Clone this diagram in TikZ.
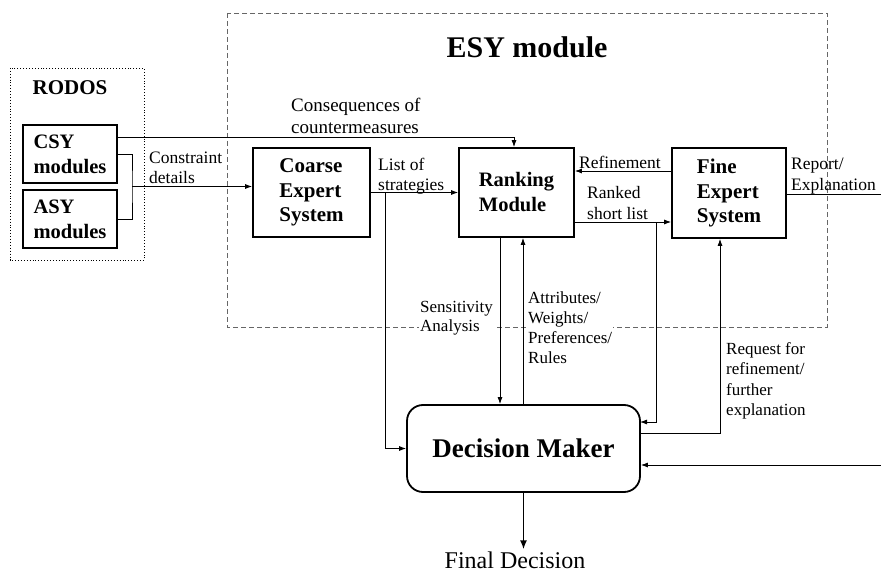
\documentclass[tikz,border=0pt]{standalone}
\usepackage{fontspec}
\setmainfont{Liberation Serif}
\usetikzlibrary{arrows.meta}

\begin{document}
\begin{tikzpicture}[
  x=1pt,
  y=-1pt,
  line join=miter,
  block/.style={draw, line width=1.8pt, align=left, inner sep=0pt,
    font=\fontsize{21}{24.5}\selectfont\bfseries},
  lbl/.style={anchor=west, align=left, inner sep=1pt,
    font=\fontsize{17.5}{20.5}\selectfont},
  conn/.style={line width=0.8pt},
  arr/.style={conn, -{Latex[length=7pt,width=5pt]}}
]
  \useasboundingbox (0,0) rectangle (881,575);

  % Rahmen ESY und RODOS
  \draw[line width=0.8pt, dash pattern=on 5pt off 3pt, gray!80!black]
    (227,13) rectangle (827,327);
  \draw[line width=0.9pt, dotted]
    (10,68) rectangle (144,260);

  \node[font=\fontsize{30}{34}\selectfont\bfseries] (esytitle) at (527,47) {ESY module};
  \node[font=\fontsize{21}{24}\selectfont\bfseries] (rodostitle) at (70,88) {RODOS};

  % Bausteine
  \node[block, minimum width=94, minimum height=58, font=\fontsize{20.5}{25}\selectfont\bfseries]
    (csy) at (70,154) {CSY\\modules};
  \node[block, minimum width=94, minimum height=58, font=\fontsize{20.5}{25}\selectfont\bfseries]
    (asy) at (70,219) {ASY\\modules};
  \node[block, minimum width=117, minimum height=89] (coarse) at (311.5,192.5)
    {Coarse\\Expert\\System};
  \node[block, minimum width=115, minimum height=89, font=\fontsize{20.5}{25}\selectfont\bfseries]
    (rank) at (516.5,192.5) {Ranking\\Module};
  \node[block, minimum width=114, minimum height=90] (fine) at (729,193)
    {Fine\\Expert\\System};
  \node[draw, line width=1.8pt, rounded corners=16pt, minimum width=233, minimum height=87,
    font=\fontsize{27}{30}\selectfont\bfseries] (dm) at (523.5,448.5) {Decision Maker};
  \node[font=\fontsize{24}{28}\selectfont, inner sep=2pt] (final) at (515,560) {Final Decision};

  % Hilfspunkte
  \coordinate (cons) at (514,137);
  \coordinate (join) at (132,186.5);
  \coordinate (lsb) at (385,192.5);
  \coordinate (ref) at (620,171);
  \coordinate (rsl) at (656,222);
  \coordinate (rsldm) at (640,422);
  \coordinate (rep) at (881,194);
  \coordinate (sa) at (500,300);
  \coordinate (att) at (523,300);
  \coordinate (req) at (720,433);
  \coordinate (inp) at (881,465);

  % Verbindungen
  \draw[arr] (csy.east |- cons) -- (cons) -- (cons |- rank.north);
  \draw[conn] (csy.east) -| (join) |- (asy.east);
  \draw[arr] (join) -- (join -| coarse.west);
  \draw[arr] (coarse) -- (rank);
  \draw[arr] (lsb) |- (dm.west);
  \draw[arr] (ref -| fine.west) -- (ref -| rank.east);
  \draw[arr] (rsl -| rank.east) -- (rsl -| fine.west);
  \draw[arr] (rsl) |- (rsldm);
  \draw[conn] (rep -| fine.east) -- (rep);
  \draw[arr] (sa |- rank.south) -- (sa |- dm.north);
  \draw[arr] (att |- dm.north) -- (att |- rank.south);
  \draw[arr] (req -| dm.east) -- (req) -- (req |- fine.south);
  \draw[arr] (inp) -- (inp -| dm.east);
  \draw[line width=1.6pt, -{Latex[length=9pt,width=7pt]}] (dm.south) -- (dm.south |- final.north);

  % Beschriftungen
  \node[lbl, font=\fontsize{19}{21.5}\selectfont] (lcons) at (290,116) {Consequences of\\countermeasures};
  \node[lbl] (lcon) at (148,168) {Constraint\\details};
  \node[lbl] (llist) at (377,176) {List of\\strategies};
  \node[lbl] (lref) at (578,162) {Refinement};
  \node[lbl] (lrsl) at (586,203) {Ranked\\short list};
  \node[lbl] (lrep) at (790,176) {Report/\\Explanation};
  \node[lbl, fill=white, font=\fontsize{17}{19.5}\selectfont] (lsens) at (419,318) {Sensitivity\\Analysis};
  \node[lbl, fill=white, font=\fontsize{17}{20}\selectfont] (latt) at (527,328) {Attributes/\\Weights/\\Preferences/\\Rules};
  \node[lbl, font=\fontsize{17}{20.5}\selectfont] (lreq) at (725,381) {Request for\\refinement/\\further\\explanation};
\end{tikzpicture}
\end{document}
